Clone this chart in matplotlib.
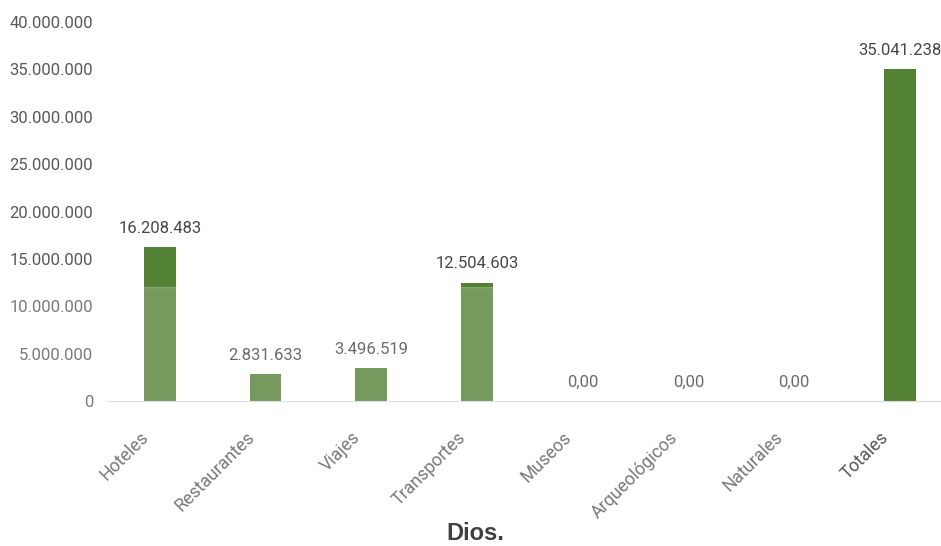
import matplotlib.pyplot as plt
import matplotlib.transforms as mtransforms
from matplotlib.patches import Rectangle

categorias = ["Hoteles", "Restaurantes", "Viajes", "Transportes",
              "Museos", "Arqueológicos", "Naturales", "Totales"]
valores = [16208483, 2831633, 3496519, 12504603, 0, 0, 0, 35041238]
etiquetas = ["16.208.483", "2.831.633", "3.496.519", "12.504.603",
             "0,00", "0,00", "0,00", "35.041.238"]
yticks = [0, 5000000, 10000000, 15000000, 20000000,
          25000000, 30000000, 35000000, 40000000]

plt.rcParams['font.family'] = ['Roboto', 'DejaVu Sans']

fig = plt.figure(figsize=(9.41, 5.46), dpi=100)
ax = fig.add_axes([107 / 941, 145 / 546, 834 / 941, 379 / 546])

x = range(len(categorias))
ax.bar(x, valores, width=0.3, color='#548235', zorder=2)

for i, (v, t) in enumerate(zip(valores, etiquetas)):
    ax.annotate(t, (i, v), xytext=(0, 8), textcoords='offset points',
                ha='center', va='bottom', fontsize=12, color='#474747')

ax.set_xlim(-0.5, 7.39)
ax.set_ylim(0, 40000000)
ax.set_yticks(yticks)
ax.set_yticklabels(['{:,}'.format(v).replace(',', '.') for v in yticks],
                   fontsize=12, color='#595959')
ax.set_xticks(list(x))
xlabels = ax.set_xticklabels(categorias, rotation=45, ha='right',
                             rotation_mode='anchor', fontsize=12.8,
                             color='#595959')
ax.tick_params(axis='both', length=0)
ax.tick_params(axis='y', pad=10)
ax.tick_params(axis='x', pad=8)

# desplazar las etiquetas del eje x hacia abajo a la izquierda
offset = mtransforms.ScaledTranslation(-20 / 100, -16 / 100, fig.dpi_scale_trans)
for lab in xlabels:
    lab.set_transform(lab.get_transform() + offset)

for s in ['top', 'right', 'left']:
    ax.spines[s].set_visible(False)
ax.spines['bottom'].set_color('#D9D9D9')

# velo blanco de la marca de agua sobre la parte baja
fig.patches.append(Rectangle((0, 0), 835 / 941, (546 - 287) / 546,
                             transform=fig.transFigure, color='white',
                             alpha=0.2, zorder=5))

fig.text(475 / 941, 13 / 546, "Dios.", ha='center', va='center',
         fontsize=17, fontweight='bold', color='#111111',
         family=['Liberation Sans', 'DejaVu Sans'])

fig.savefig('out.png', dpi=100)
